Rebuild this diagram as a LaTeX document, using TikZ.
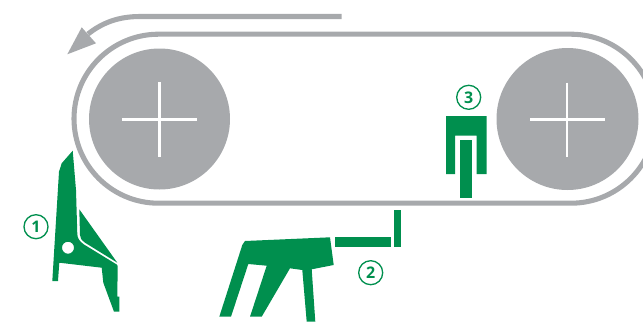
\documentclass[tikz,border=0pt]{standalone}
\usepackage{fontspec}
\setmainfont{Open Sans}
\definecolor{beltgray}{HTML}{A7A9AC}
\definecolor{partgreen}{HTML}{008F4E}
\tikzset{
  beltline/.style={draw=beltgray,line width=3.8pt,fill=none},
  wheel/.style={fill=beltgray,draw=none},
  crossline/.style={draw=white,line width=1.7pt},
  part/.style={fill=partgreen,draw=none},
  numlabel/.style={circle,draw=partgreen,line width=1pt,text=partgreen,inner sep=0pt,minimum size=18pt,font=\fontsize{12}{12}\selectfont\bfseries}
}
\begin{document}
\begin{tikzpicture}[x=0.75pt,y=-0.75pt]
\useasboundingbox (0,0) rectangle (643,322);
\clip (0,0) rectangle (643,322);
% belt
\draw[beltline] (158.5,34.2) -- (571,34.2) arc[start angle=90,end angle=-90,x radius=84.5,y radius=-84.5] -- (158.5,203.2) arc[start angle=-90,end angle=-270,x radius=84.5,y radius=-84.5] -- cycle;
% wheels
\fill[wheel] (159.5,119) circle[radius=70.5];
\fill[wheel] (567.5,119) circle[radius=71];
\draw[crossline] (122,119.5) -- (197,119.5) (159.5,82) -- (159.5,157);
\draw[crossline] (530,119.5) -- (605,119.5) (567.3,82.5) -- (567.3,157);
% direction arrow
\draw[beltline] (341.7,16.5) -- (140,16.5) .. controls (118,16.5) and (102,23) .. (88,34);
\fill[beltgray] (67.3,54.3) -- (81.7,27.3) -- (96,43.3) -- cycle;
% part 1
\fill[part,even odd rule] (72.7,150.7) -- (61.7,163.3) -- (59,171.7) -- (52.3,281) -- (58,281) -- (59.3,262.7) -- (101.7,267.7) -- (103.3,282.7) -- (114,311.7) -- (119.3,311.7) -- (119.3,296.7) -- (117.3,296.7) -- (117.7,266) -- (116.7,264.5) -- (84,244.5) .. controls (79,241) and (77.5,238) .. (77.3,234) -- (76,190) -- cycle (74,247.7) arc[start angle=0,end angle=360,radius=6];
\fill[part] (79.3,209.3) -- (117.3,262.7) -- (85,242.7) .. controls (81.5,240) and (80,238) .. (80,235) -- cycle;
\node[numlabel] (n1) at (36,226.7) {1};
% part 2
\fill[part] (245,241) -- (330,237.3) -- (333.7,265) -- (311.7,269.3) -- (315.3,321.7) -- (306.7,321.7) -- (302.3,270) -- (290,268.3) -- (261.7,316.7) -- (250,316.7) -- (266.7,265.7) -- (248.3,264) -- (231,316.7) -- (219.3,316.7) -- (242.3,245) -- cycle;
\fill[part] (334.7,237.3) rectangle (391,247.3);
\fill[part] (394,210) rectangle (401,246.7);
\node[numlabel] (n2) at (370.7,272.7) {2};
% part 3
\fill[part] (446,116) -- (486.7,116) -- (486.7,174) -- (476.7,174) -- (476.7,135.7) -- (455,135.7) -- (455,174) -- (446,174) -- cycle;
\fill[part] (460,140) rectangle (472.3,197.7);
\node[numlabel] (n3) at (468.7,97.3) {3};
\end{tikzpicture}
\end{document}
